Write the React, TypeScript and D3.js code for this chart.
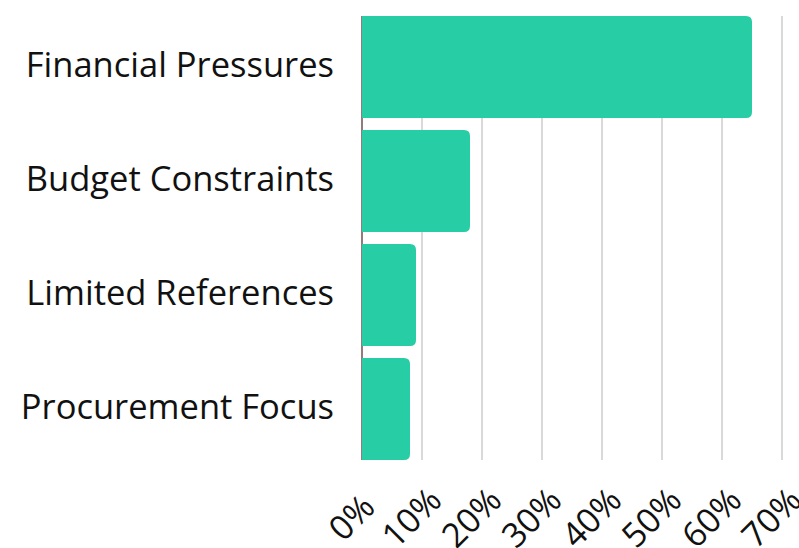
import React from "react";
import * as d3 from "d3";

const categories = ["Financial Pressures", "Budget Constraints", "Limited References", "Procurement Focus"];
const values = [65, 18, 9, 8];
const ticks = [0, 10, 20, 30, 40, 50, 60, 70];

const W = 799, H = 548;
const M = { left: 362, right: 17, top: 16, bottom: 88 };

export default function App() {
  const x = d3.scaleLinear().domain([0, 70]).range([M.left, W - M.right]);
  const y = d3.scaleBand<string>().domain(categories).range([M.top, H - M.bottom]).paddingInner(12 / 114).paddingOuter(0);
  const font = "'Open Sans', sans-serif";
  const r = 6;
  const barPath = (v: number, c: string) => {
    const x0 = x(0), x1 = x(v), y0 = y(c)!, h = y.bandwidth();
    return `M${x0},${y0}H${x1 - r}Q${x1},${y0} ${x1},${y0 + r}V${y0 + h - r}Q${x1},${y0 + h} ${x1 - r},${y0 + h}H${x0}Z`;
  };
  return (
    <svg width={W} height={H} style={{ position: "absolute", left: 0, top: 0 }}>
      {ticks.map((t) => (
        <line key={t} x1={x(t)} x2={x(t)} y1={M.top} y2={H - M.bottom} stroke="#cccccc" strokeWidth={1.5} />
      ))}
      <line x1={x(0)} x2={x(0)} y1={M.top} y2={H - M.bottom} stroke="#7a5a5e" strokeWidth={1.5} />
      {categories.map((c, i) => (
        <path key={c} d={barPath(values[i], c)} fill="#26cda5" />
      ))}
      {categories.map((c) => (
        <text key={c} x={334} y={y(c)! + y.bandwidth() / 2 + 10} textAnchor="end" fontFamily={font} fontSize={34.5} fill="#111">
          {c}
        </text>
      ))}
      {ticks.map((t) => (
        <text key={t} transform={`translate(${x(t) - 2},${H - M.bottom + 66}) rotate(-45)`} textAnchor="middle" fontFamily={font} fontSize={34} fill="#111">
          {t}%
        </text>
      ))}
    </svg>
  );
}
